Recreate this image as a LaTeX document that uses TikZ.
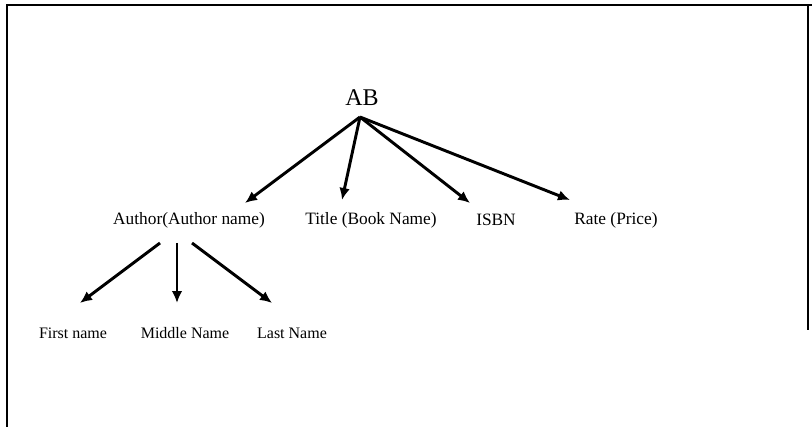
\documentclass[tikz,border=0pt]{standalone}
\usepackage{fontspec}
\setmainfont{Liberation Serif}
\usetikzlibrary{arrows.meta}

\tikzset{
  field/.style={inner sep=0pt, font=\fontsize{13}{15}\selectfont},
  subfield/.style={inner sep=0pt, font=\fontsize{12}{14}\selectfont},
  link/.style={line width=2.2pt, -{Latex[length=9pt,width=8pt]}}
}

\begin{document}
\begin{tikzpicture}[x=0.75pt, y=-0.75pt]
        \useasboundingbox (0,0) rectangle (812,427);

        %Frame
        \draw [line width=1.5pt] (812,5) -- (7,5) -- (7,427);
        \draw [line width=1.5pt] (808,5) -- (808,330);

        %Root
        \node [inner sep=0pt, font=\fontsize{18}{21}\selectfont] (ab) at (362,98) {AB};
        \coordinate (abfoot) at ([shift={(-2,19)}]ab.center);

        %Fields
        \node [field] (author) at (189,220) {Author(Author name)};
        \node [field] (title)  at (371,220) {Title (Book Name)};
        \node [field] (isbn)   at (496,220) {ISBN};
        \node [field] (rate)   at (616,220) {Rate (Price)};

        %Parts of the author name
        \node [subfield] (first)  at (73,333)  {First name};
        \node [subfield] (middle) at (185,333) {Middle Name};
        \node [subfield] (last)   at (292,333) {Last Name};

        %Links from the root
        \draw [link] (abfoot) -- ([shift={(56,-17)}]author.center);
        \draw [link] (abfoot) -- ([shift={(-29,-20)}]title.center);
        \draw [link] (abfoot) -- ([shift={(-26,-17)}]isbn.center);
        \draw [link] (abfoot) -- ([shift={(-46,-20)}]rate.center);

        %Links from the author
        \draw [link] ([shift={(-29,23)}]author.center) -- ([shift={(7,-30)}]first.center);
        \draw [link] ([shift={(-12,23)}]author.center) -- ([shift={(-8,-30)}]middle.center);
        \draw [link] ([shift={(3,23)}]author.center)   -- ([shift={(-20,-30)}]last.center);

\end{tikzpicture}
\end{document}
